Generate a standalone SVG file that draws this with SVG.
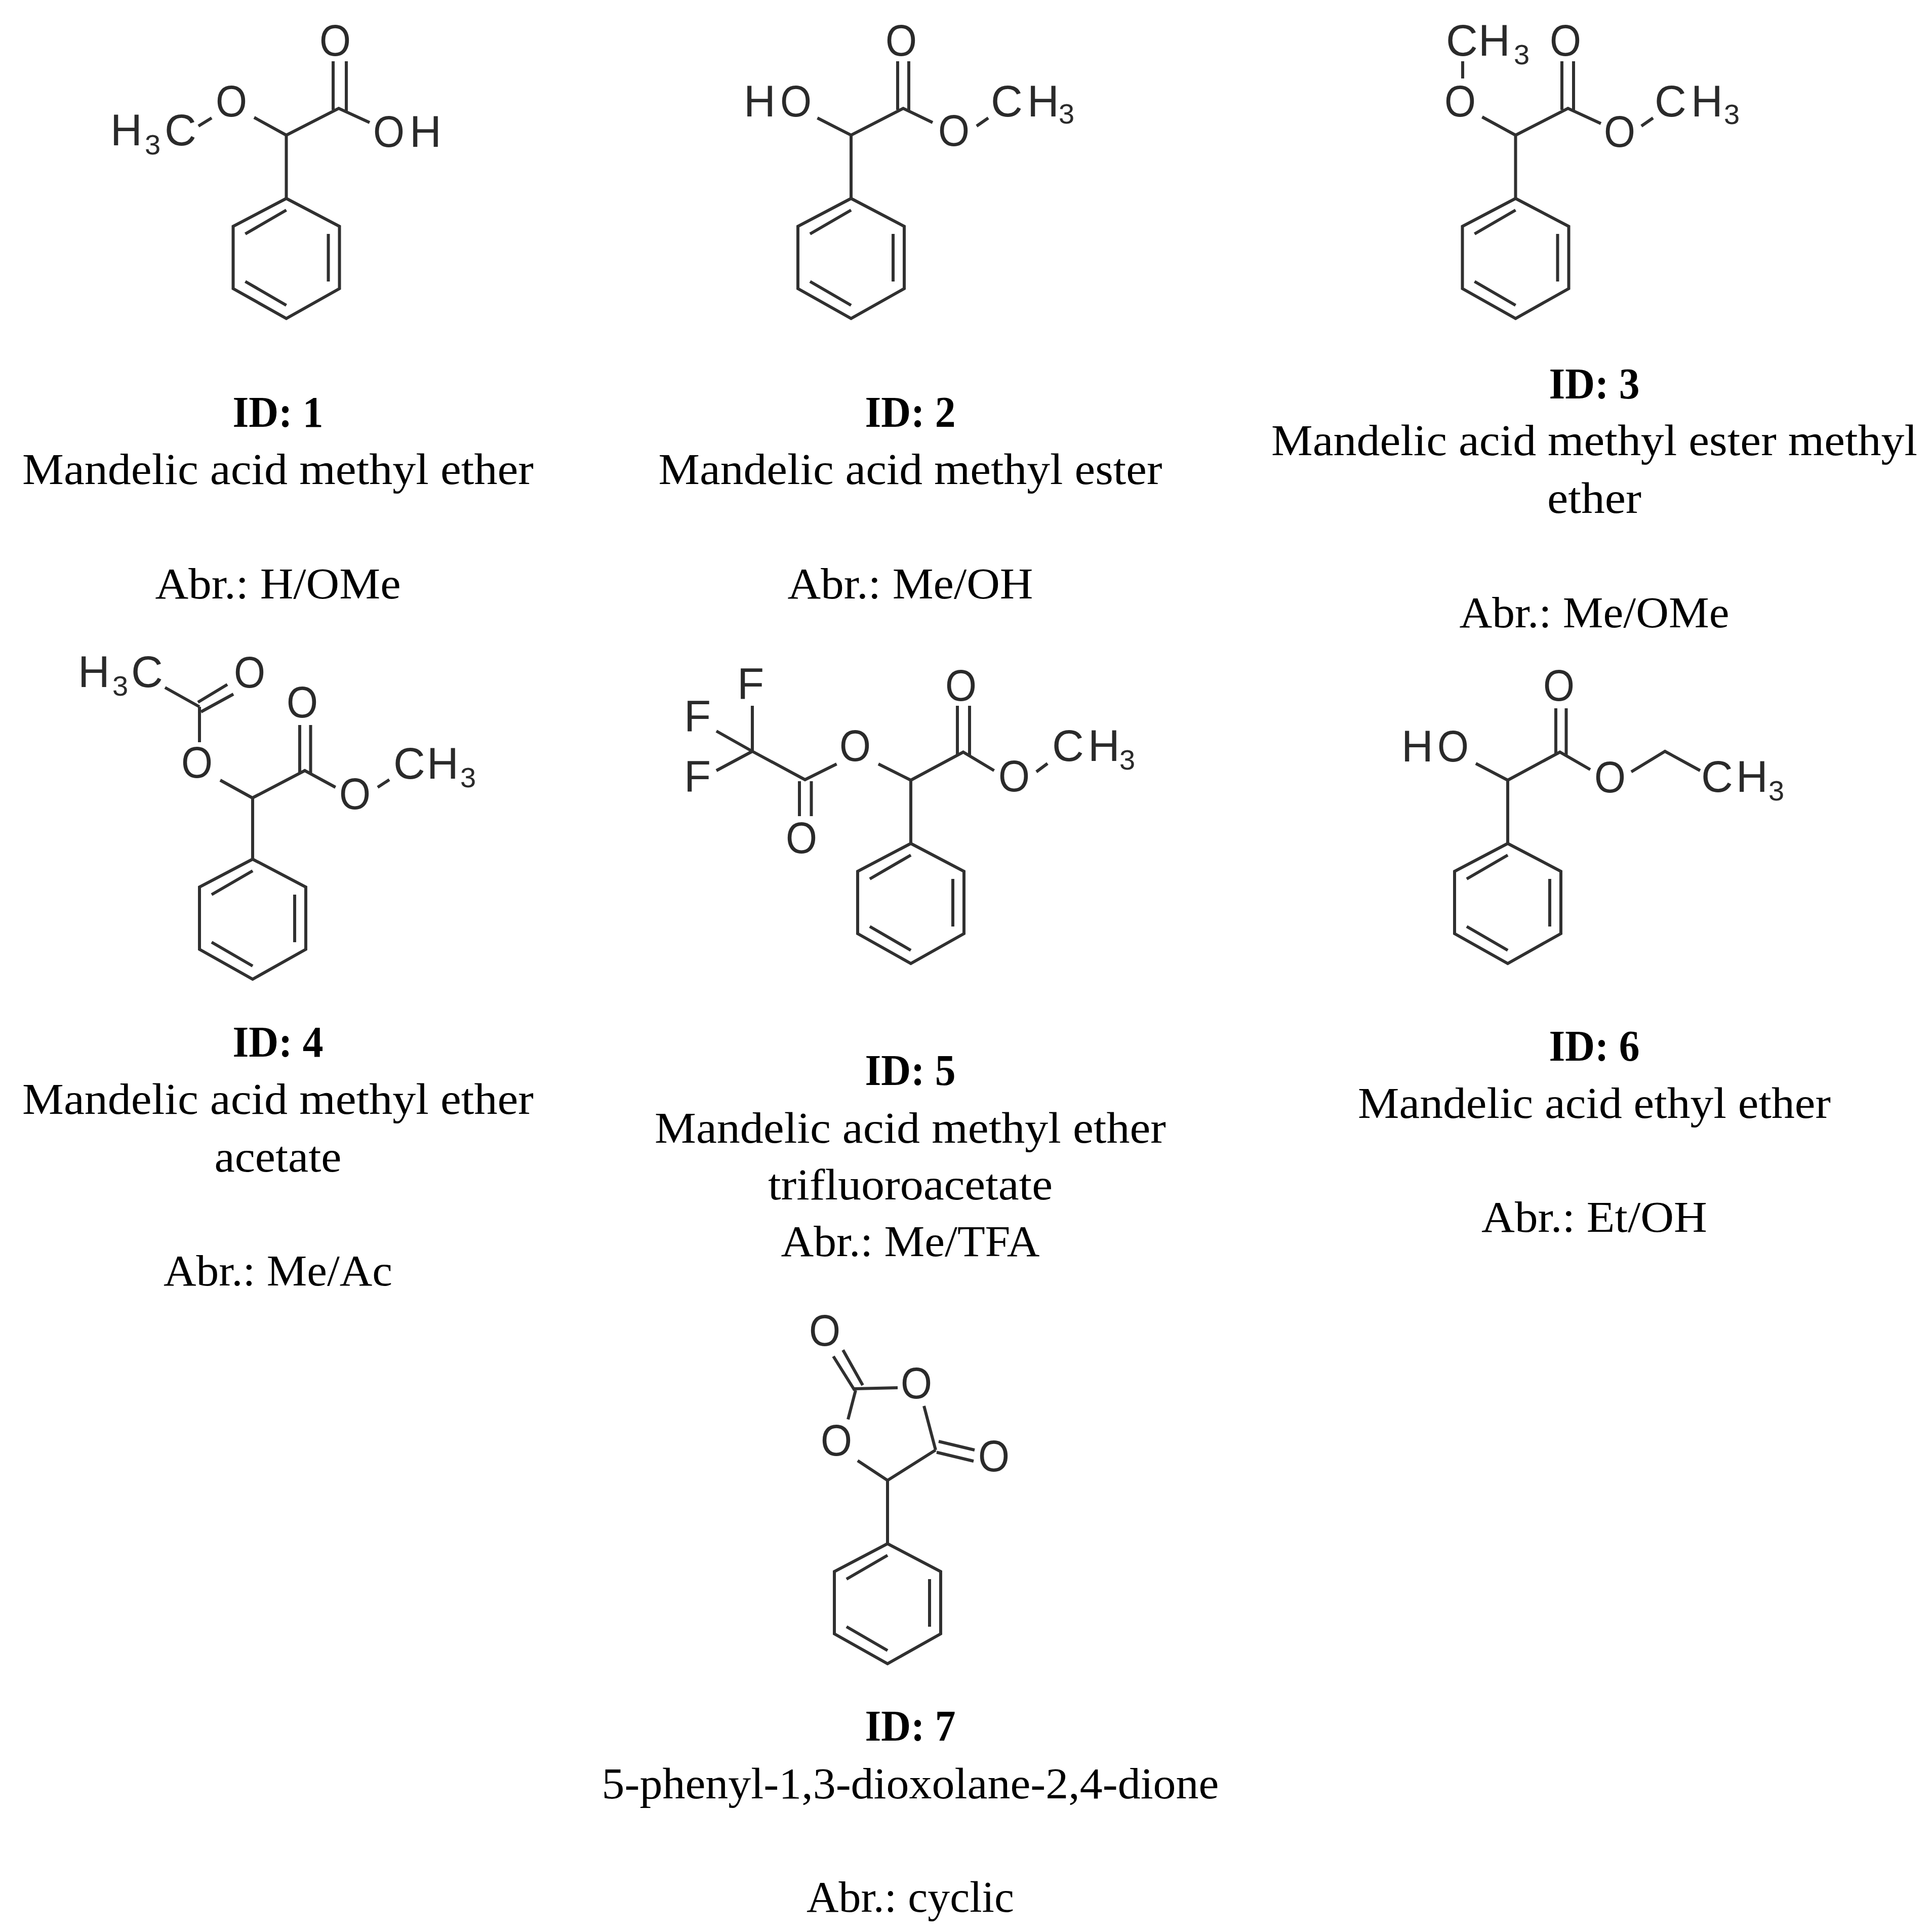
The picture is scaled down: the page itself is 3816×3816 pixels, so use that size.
<svg xmlns="http://www.w3.org/2000/svg" xmlns:xlink="http://www.w3.org/1999/xlink" width="3816" height="3816" viewBox="0 0 3816 3816">
<style>
.b{fill:none;stroke:#303030;stroke-width:6;stroke-linecap:butt;stroke-linejoin:miter}
.a{font-family:"Liberation Sans",Arial,sans-serif;font-size:87px;fill:#2a2a2a}
.s{font-size:56px}
.c{font-family:"Liberation Serif","Times New Roman",serif;font-size:86px;fill:#000;text-anchor:middle}
.i{font-weight:bold}
</style>
<defs>
<path id="ph" class="b" d="M0 0L105 55V178L0 237L-105 178V55ZM0 23L-81 70M83 70V164M-81 164L0 211"/>
</defs>
<rect width="3816" height="3816" fill="#fff"/>
<g id="connectors">
<path id="b1" class="b" d="M565.500 392V267M502 232L565.500 267L669 214L730 242M658 121V217M684 121V219M418 233L392 249"/>
<path id="b2" class="b" d="M1681 392V267M1614.500 233L1681 267L1784 214L1842 242M1773 121V217M1795 121V219M1929 249L1952 233"/>
<path id="b3" class="b" d="M2993.500 392V267M2927.500 231L2993.500 267L3097 214L3162 244M3085 121V217M3108 121V219M2889 121V155M3242 249L3265 233"/>
<path id="b4" class="b" d="M499 1697V1576M435 1541L498.500 1576L602 1522L662.600 1555M592 1432V1526M613.500 1432V1528M746 1555L769 1540M326 1358L394 1396M391 1387L449 1352M397 1406L461 1371M394 1396V1466"/>
<path id="b5" class="b" d="M1799 1666V1541M1735 1509L1799 1541L1902.500 1485.500L1963.500 1522M1891 1394V1490M1915 1394V1492M2047 1524.500L2069 1508M1486 1394V1484M1415 1444L1486 1484L1590 1540L1652.500 1509M1415 1522L1486 1484M1579 1543V1612M1602.500 1543V1612"/>
<path id="b6" class="b" d="M2978 1666V1541M2915 1508L2978 1541L3081 1485.500L3141 1520M3073 1399V1490M3093.500 1399V1492M3222 1524.500L3288.600 1484L3358 1522"/>
<path id="b7" class="b" d="M1753 3049V2924M1694 2885L1753 2924L1848 2864M1646 2679L1688 2746M1665 2666.500L1704 2736M1688 2743L1773 2741M1690 2746L1675 2803.500M1825 2777L1848 2864M1854 2847L1925 2864M1850 2868.500L1923 2886"/>
</g>
<g id="mol1">
<use xlink:href="#ph" href="#ph" x="565.500" y="392"/>
<text class="a" x="218" y="287">H<tspan class="s" x="286" y="305">3</tspan><tspan x="325" y="287">C</tspan></text>
<text class="a" x="426" y="230" textLength="62" lengthAdjust="spacingAndGlyphs">O</text>
<text class="a" x="631" y="110" textLength="62" lengthAdjust="spacingAndGlyphs">O</text>
<text class="a" x="737" y="290"><tspan textLength="62" lengthAdjust="spacingAndGlyphs">O</tspan><tspan x="809">H</tspan></text>
<text class="c i" x="549" y="843" textLength="179" lengthAdjust="spacingAndGlyphs">ID: 1</text>
<text class="c" x="549" y="956" textLength="1010" lengthAdjust="spacingAndGlyphs">Mandelic acid methyl ether</text>
<text class="c" x="549" y="1182" textLength="485" lengthAdjust="spacingAndGlyphs">Abr.: H/OMe</text>
</g>
<g id="mol2">
<use xlink:href="#ph" href="#ph" x="1681" y="392"/>
<text class="a" x="1469" y="230">H<tspan x="1541" textLength="62" lengthAdjust="spacingAndGlyphs">O</tspan></text>
<text class="a" x="1749" y="110" textLength="62" lengthAdjust="spacingAndGlyphs">O</text>
<text class="a" x="1853" y="288" textLength="62" lengthAdjust="spacingAndGlyphs">O</text>
<text class="a" x="1957" y="230">C<tspan x="2029">H</tspan><tspan class="s" x="2091" y="244">3</tspan></text>
<text class="c i" x="1798" y="843" textLength="179" lengthAdjust="spacingAndGlyphs">ID: 2</text>
<text class="c" x="1798" y="956" textLength="995" lengthAdjust="spacingAndGlyphs">Mandelic acid methyl ester</text>
<text class="c" x="1798" y="1182" textLength="485" lengthAdjust="spacingAndGlyphs">Abr.: Me/OH</text>
</g>
<g id="mol3">
<use xlink:href="#ph" href="#ph" x="2993.500" y="392"/>
<text class="a" x="2856" y="110">C<tspan x="2920">H</tspan><tspan class="s" x="2990" y="127">3</tspan></text>
<text class="a" x="3061" y="110" textLength="62" lengthAdjust="spacingAndGlyphs">O</text>
<text class="a" x="2853" y="230" textLength="62" lengthAdjust="spacingAndGlyphs">O</text>
<text class="a" x="3168" y="290" textLength="62" lengthAdjust="spacingAndGlyphs">O</text>
<text class="a" x="3268" y="230">C<tspan x="3340">H</tspan><tspan class="s" x="3405" y="245">3</tspan></text>
<text class="c i" x="3149" y="787" textLength="179" lengthAdjust="spacingAndGlyphs">ID: 3</text>
<text class="c" x="3149" y="899" textLength="1276" lengthAdjust="spacingAndGlyphs">Mandelic acid methyl ester methyl</text>
<text class="c" x="3149" y="1013" textLength="186" lengthAdjust="spacingAndGlyphs">ether</text>
<text class="c" x="3149" y="1239" textLength="533" lengthAdjust="spacingAndGlyphs">Abr.: Me/OMe</text>
</g>
<g id="mol4">
<use xlink:href="#ph" href="#ph" x="499" y="1697"/>
<text class="a" x="154" y="1357">H<tspan class="s" x="222" y="1374">3</tspan><tspan x="259" y="1357">C</tspan></text>
<text class="a" x="462" y="1358" textLength="62" lengthAdjust="spacingAndGlyphs">O</text>
<text class="a" x="358" y="1536" textLength="62" lengthAdjust="spacingAndGlyphs">O</text>
<text class="a" x="566" y="1417" textLength="62" lengthAdjust="spacingAndGlyphs">O</text>
<text class="a" x="670" y="1598" textLength="62" lengthAdjust="spacingAndGlyphs">O</text>
<text class="a" x="777" y="1538">C<tspan x="843">H</tspan><tspan class="s" x="909" y="1555">3</tspan></text>
<text class="c i" x="549" y="2087" textLength="179" lengthAdjust="spacingAndGlyphs">ID: 4</text>
<text class="c" x="549" y="2200" textLength="1010" lengthAdjust="spacingAndGlyphs">Mandelic acid methyl ether</text>
<text class="c" x="549" y="2314" textLength="251" lengthAdjust="spacingAndGlyphs">acetate</text>
<text class="c" x="549" y="2539" textLength="452" lengthAdjust="spacingAndGlyphs">Abr.: Me/Ac</text>
</g>
<g id="mol5">
<use xlink:href="#ph" href="#ph" x="1799" y="1666"/>
<text class="a" x="1456" y="1380">F</text>
<text class="a" x="1351" y="1444">F</text>
<text class="a" x="1351" y="1563">F</text>
<text class="a" x="1658" y="1503" textLength="62" lengthAdjust="spacingAndGlyphs">O</text>
<text class="a" x="1552" y="1685" textLength="62" lengthAdjust="spacingAndGlyphs">O</text>
<text class="a" x="1867" y="1384" textLength="62" lengthAdjust="spacingAndGlyphs">O</text>
<text class="a" x="1972" y="1563" textLength="62" lengthAdjust="spacingAndGlyphs">O</text>
<text class="a" x="2078" y="1503">C<tspan x="2149">H</tspan><tspan class="s" x="2211" y="1520">3</tspan></text>
<text class="c i" x="1798" y="2143" textLength="179" lengthAdjust="spacingAndGlyphs">ID: 5</text>
<text class="c" x="1798" y="2257" textLength="1010" lengthAdjust="spacingAndGlyphs">Mandelic acid methyl ether</text>
<text class="c" x="1798" y="2369" textLength="562" lengthAdjust="spacingAndGlyphs">trifluoroacetate</text>
<text class="c" x="1798" y="2481" textLength="511" lengthAdjust="spacingAndGlyphs">Abr.: Me/TFA</text>
</g>
<g id="mol6">
<use xlink:href="#ph" href="#ph" x="2978" y="1666"/>
<text class="a" x="2768" y="1504">H<tspan x="2839" textLength="62" lengthAdjust="spacingAndGlyphs">O</tspan></text>
<text class="a" x="3048" y="1384" textLength="62" lengthAdjust="spacingAndGlyphs">O</text>
<text class="a" x="3149" y="1565" textLength="62" lengthAdjust="spacingAndGlyphs">O</text>
<text class="a" x="3360" y="1564">C<tspan x="3429">H</tspan><tspan class="s" x="3493" y="1581">3</tspan></text>
<text class="c i" x="3149" y="2095" textLength="179" lengthAdjust="spacingAndGlyphs">ID: 6</text>
<text class="c" x="3149" y="2208" textLength="934" lengthAdjust="spacingAndGlyphs">Mandelic acid ethyl ether</text>
<text class="c" x="3149" y="2433" textLength="446" lengthAdjust="spacingAndGlyphs">Abr.: Et/OH</text>
</g>
<g id="mol7">
<use xlink:href="#ph" href="#ph" x="1753" y="3049"/>
<text class="a" x="1598" y="2658" textLength="62" lengthAdjust="spacingAndGlyphs">O</text>
<text class="a" x="1779" y="2762" textLength="62" lengthAdjust="spacingAndGlyphs">O</text>
<text class="a" x="1621" y="2875" textLength="62" lengthAdjust="spacingAndGlyphs">O</text>
<text class="a" x="1932" y="2906" textLength="62" lengthAdjust="spacingAndGlyphs">O</text>
<text class="c i" x="1798" y="3438" textLength="179" lengthAdjust="spacingAndGlyphs">ID: 7</text>
<text class="c" x="1798" y="3552" textLength="1219" lengthAdjust="spacingAndGlyphs">5-phenyl-1,3-dioxolane-2,4-dione</text>
<text class="c" x="1798" y="3776" textLength="410" lengthAdjust="spacingAndGlyphs">Abr.: cyclic</text>
</g>
</svg>
